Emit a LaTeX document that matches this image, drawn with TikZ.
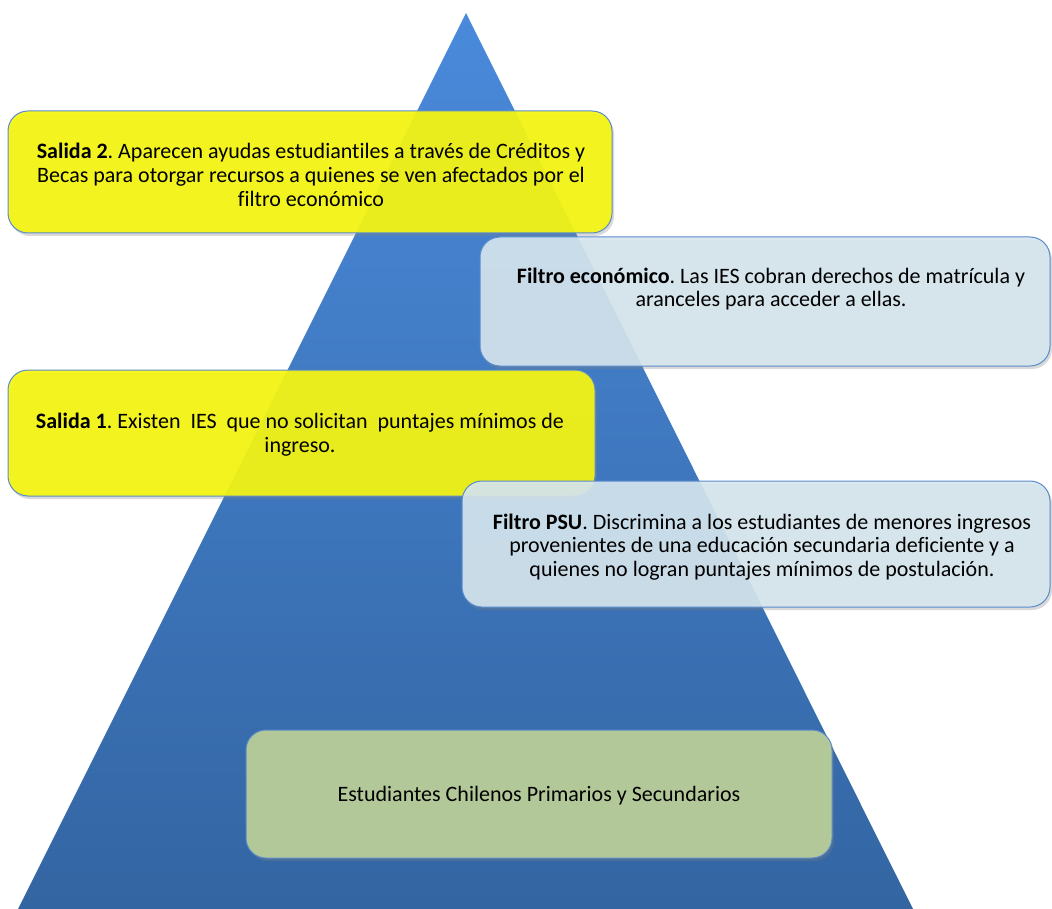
\documentclass[tikz,border=0pt]{standalone}
\usepackage{fontspec}
\setmainfont{Carlito}[RawFeature=-liga]
\usetikzlibrary{shadows}
\definecolor{triTop}{HTML}{4A8ADB}
\definecolor{triBot}{HTML}{3365A2}
\definecolor{yel}{HTML}{F5F512}
\definecolor{lblue}{HTML}{D6E6EF}
\definecolor{grn}{HTML}{B3C899}
\definecolor{edge}{HTML}{5A8BCB}
\begin{document}
\frenchspacing
\begin{tikzpicture}[x=1pt,y=-1pt,
  box/.style={draw=edge, line width=1pt, rounded corners=20pt, inner sep=0pt, outer sep=0pt,
    drop shadow={opacity=0.3, shadow xshift=2pt, shadow yshift=-3pt}},
  yelbox/.style={box, fill=yel, fill opacity=0.93, draw opacity=1},
  bluebox/.style={box, fill=lblue, fill opacity=0.9, draw opacity=1},
  grnbox/.style={box, fill=grn},
  txt/.style={align=center, font=\fontsize{22}{23.8}\selectfont, text=black, inner sep=0pt}]
\useasboundingbox (0,0) rectangle (1052,909);
\coordinate (apex) at (466,13);
\coordinate (bl) at (18,909);
\coordinate (br) at (913,909);
\shade[top color=triTop, bottom color=triBot] (apex) -- (br) -- (bl) -- cycle;

\node[yelbox, minimum width=604pt, minimum height=122pt] (s2) at (310,172) {};
\node[txt] (s2t) at (311,175) {\textbf{Salida 2}. Aparecen ayudas estudiantiles a través de Créditos y\\ Becas para otorgar recursos a quienes se ven afectados por el\\ filtro económico};

\node[bluebox, minimum width=570pt, minimum height=129pt] (fe) at (765,301.5) {};
\node[txt] (fet) at (771,289) {\textbf{Filtro económico}. Las IES cobran derechos de matrícula y\\ aranceles para acceder a ellas.};

\node[yelbox, minimum width=587pt, minimum height=126pt] (s1) at (301.5,433) {};
\node[txt] (s1t) at (300,435) {\textbf{Salida 1}. Existen~ IES~ que no solicitan~ puntajes mínimos de\\ ingreso.};

\node[bluebox, minimum width=588pt, minimum height=126pt] (psu) at (756,544) {};
\node[txt] (psut) at (762,547) {\textbf{Filtro PSU}. Discrimina a los estudiantes de menores ingresos\\ provenientes de una educación secundaria deficiente y a\\ quienes no logran puntajes mínimos de postulación.};

\node[grnbox, minimum width=586pt, minimum height=128pt] (est) at (539,794) {};
\node[txt] (estt) at (539,796) {Estudiantes Chilenos Primarios y Secundarios};
\end{tikzpicture}
\end{document}
